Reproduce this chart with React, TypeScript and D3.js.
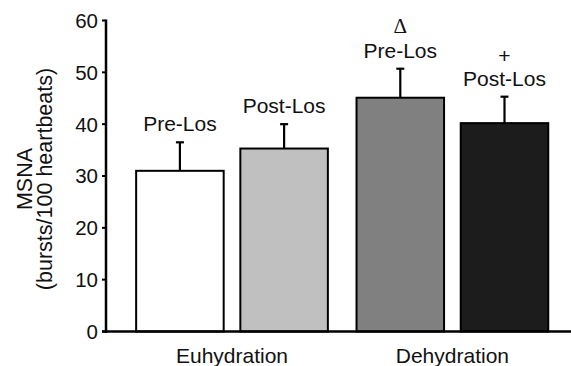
import React from "react";
import * as d3 from "d3";

// groups and conditions
const groups = ["Euhydration", "Dehydration"];
const conditions = ["Pre-Los", "Post-Los"];
// mean MSNA per group, per condition
const means = [
  [31, 35.3],
  [45.1, 40.2],
];
// upper error (SEM)
const errors = [
  [5.5, 4.7],
  [5.6, 5.1],
];
const fills = [
  ["#ffffff", "#c0c0c0"],
  ["#808080", "#1c1c1c"],
];
// significance marks shown above the label
const marks = [
  ["", ""],
  ["\u0394", "+"],
];
const yTicks = [0, 10, 20, 30, 40, 50, 60];

const W = 571;
const H = 366;
const axisX = 106;

const App = () => {
  const y = d3.scaleLinear().domain([0, 60]).range([331.5, 20.5]);

  const x0 = d3
    .scaleBand()
    .domain(groups)
    .range([axisX, W])
    .paddingInner(0.13)
    .paddingOuter(0.12)
    .align(0.57);

  const x1 = d3
    .scaleBand()
    .domain(conditions)
    .range([0, x0.bandwidth()])
    .paddingInner(0.16)
    .paddingOuter(0);

  const font = "'Liberation Sans', Arial, Helvetica, sans-serif";

  return (
    <svg
      width={W}
      height={H}
      style={{ position: "absolute", left: 0, top: 0, background: "#fff" }}
      fontFamily={font}
    >
      {/* bars */}
      {groups.map((g, gi) =>
        conditions.map((c, ci) => {
          const bx = (x0(g) as number) + (x1(c) as number);
          const bw = x1.bandwidth();
          const cx = bx + bw / 2;
          const top = y(means[gi][ci]);
          const errTop = y(means[gi][ci] + errors[gi][ci]);
          const labelY = errTop - 11;
          const m = marks[gi][ci];
          return (
            <g key={g + c}>
              <line x1={cx} x2={cx} y1={top} y2={errTop} stroke="#000" strokeWidth={2.2} />
              <line x1={cx - 4} x2={cx + 4} y1={errTop} y2={errTop} stroke="#000" strokeWidth={2.2} />
              <rect
                x={bx}
                y={top}
                width={bw}
                height={y(0) - top}
                fill={fills[gi][ci]}
                stroke="#000"
                strokeWidth={2}
              />
              <text x={cx} y={labelY} textAnchor="middle" fontSize={21} fill="#111">
                {c}
              </text>
              {m && (
                <text
                  x={cx}
                  y={labelY - (m === "+" ? 23 : 25)}
                  textAnchor="middle"
                  fontSize={21}
                  fontFamily={m === "+" ? font : "'Liberation Serif', 'Times New Roman', serif"}
                  fill="#111"
                >
                  {m}
                </text>
              )}
            </g>
          );
        })
      )}

      {/* y axis */}
      <line x1={axisX} x2={axisX} y1={y(60) - 1} y2={y(0) + 1.5} stroke="#000" strokeWidth={2.5} />
      {yTicks.map((t) => (
        <g key={t}>
          <line x1={axisX - 4} x2={axisX} y1={y(t)} y2={y(t)} stroke="#000" strokeWidth={2} />
          <text x={axisX - 8} y={y(t)} dy="0.36em" textAnchor="end" fontSize={20.5} fill="#111">
            {t}
          </text>
        </g>
      ))}

      {/* x axis */}
      <line x1={axisX - 4} x2={W} y1={y(0)} y2={y(0)} stroke="#000" strokeWidth={2.5} />
      {groups.map((g) => (
        <text
          key={g}
          x={(x0(g) as number) + x0.bandwidth() / 2}
          y={363}
          textAnchor="middle"
          fontSize={21}
          fill="#111"
        >
          {g}
        </text>
      ))}

      {/* y label */}
      <g transform={`translate(0, ${(y(0) + y(60)) / 2 + 3}) rotate(-90)`}>
        <text x={0} y={32} textAnchor="middle" fontSize={21.5} fill="#111">
          MSNA
        </text>
        <text x={0} y={52} textAnchor="middle" fontSize={21.5} fill="#111">
          (bursts/100 heartbeats)
        </text>
      </g>
    </svg>
  );
};

export default App;
